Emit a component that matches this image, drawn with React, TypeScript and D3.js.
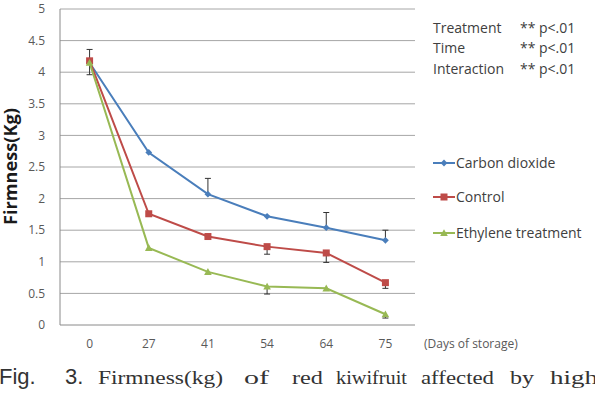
import * as d3 from "d3";

const days = ["0", "27", "41", "54", "64", "75"];
const yTicks = [0, 0.5, 1, 1.5, 2, 2.5, 3, 3.5, 4, 4.5, 5];

const carbonDioxide = [4.15, 2.73, 2.07, 1.72, 1.54, 1.34];
const control = [4.18, 1.76, 1.4, 1.24, 1.14, 0.67];
const ethylene = [4.15, 1.22, 0.84, 0.61, 0.58, 0.17];

// error bar sizes (upper, lower)
const carbonErrUp = [0.21, 0, 0.25, 0, 0.24, 0.16];
const carbonErrDown = [0.19, 0, 0, 0, 0, 0];
const controlErrDown = [0, 0, 0, 0.12, 0.15, 0.09];
const ethyleneErrDown = [0, 0, 0, 0.12, 0, 0.06];

const seriesNames = ["Carbon dioxide", "Control", "Ethylene treatment"];
const statsLines = [
  ["Treatment", "**", "p<.01"],
  ["Time", "**", "p<.01"],
  ["Interaction", "**", "p<.01"],
];
const captionWords = ["Firmness(kg)", "of", "red", "kiwifruit", "affected", "by", "high"];

const W = 595;
const H = 416;
const blue = "#4a7ebb";
const red = "#be4b48";
const green = "#98b954";
const font = "'Open Sans', sans-serif";

function Marker({ kind, x, y, color }: { kind: string; x: number; y: number; color: string }) {
  if (kind === "diamond") {
    const s = 3.4;
    return <path d={`M${x},${y - s}L${x + s},${y}L${x},${y + s}L${x - s},${y}Z`} fill={color} />;
  }
  if (kind === "square") {
    return <rect x={x - 3.5} y={y - 3.5} width={7} height={7} fill={color} />;
  }
  const s = 3.8;
  return <path d={`M${x},${y - s}L${x + s},${y + s * 0.8}L${x - s},${y + s * 0.8}Z`} fill={color} />;
}

export default function App() {
  const x = d3.scalePoint<string>().domain(days).range([60, 415]).padding(0.5);
  const y = d3.scaleLinear().domain([0, 5]).range([325, 9]);

  const series = [
    { name: seriesNames[0], values: carbonDioxide, color: blue, kind: "diamond", up: carbonErrUp, down: carbonErrDown },
    { name: seriesNames[1], values: control, color: red, kind: "square", up: days.map(() => 0), down: controlErrDown },
    { name: seriesNames[2], values: ethylene, color: green, kind: "triangle", up: days.map(() => 0), down: ethyleneErrDown },
  ];

  const line = d3
    .line<number>()
    .x((_, i) => x(days[i]) as number)
    .y((d) => y(d));

  const legendY = [163, 197, 233];
  const statsY = [28, 48, 69];
  // caption word positions and widths
  const captionX = [98, 244, 292, 336, 421, 510, 550];
  const captionW = [125, 25, 31, 71, 73, 24, 48];

  return (
    <svg width={W} height={H} style={{ position: "absolute", left: 0, top: 0, background: "#fff" }}>
      {/* grid */}
      {yTicks.map((t) => (
        <line key={t} x1={60} x2={415} y1={y(t)} y2={y(t)} stroke={t === 0 ? "#8a8a8a" : "#a6a6a6"} strokeWidth={1} />
      ))}
      <line x1={60} x2={60} y1={y(5)} y2={y(0)} stroke="#8a8a8a" strokeWidth={1} />
      {yTicks.map((t) => (
        <text key={t} x={45} y={y(t)} dy="0.35em" textAnchor="end" fontSize={12} fill="#595959" fontFamily={font}>
          {t}
        </text>
      ))}
      {days.map((d) => (
        <text key={d} x={x(d)} y={344} dy="0.35em" textAnchor="middle" fontSize={12} fill="#595959" fontFamily={font}>
          {d}
        </text>
      ))}
      <text x={424} y={344} dy="0.35em" fontSize={12} fill="#595959" fontFamily={font}>
        (Days of storage)
      </text>
      <text
        transform={`translate(17,${y(2.5) - 0.5}) rotate(-90)`}
        textAnchor="middle"
        fontSize={17}
        fontWeight="bold"
        fill="#1a1a1a"
        fontFamily={font}
        textLength={117}
        lengthAdjust="spacingAndGlyphs"
      >
        Firmness(Kg)
      </text>

      {/* series */}
      {series.map((s) => (
        <g key={s.name}>
          <path d={line(s.values) ?? ""} fill="none" stroke={s.color} strokeWidth={2} />
          {s.values.map((v, i) => {
            const cx = x(days[i]) as number;
            return (
              <g key={i}>
                {s.up[i] > 0 && (
                  <g stroke="#333" strokeWidth={1}>
                    <line x1={cx} x2={cx} y1={y(v)} y2={y(v + s.up[i])} />
                    <line x1={cx - 3} x2={cx + 3} y1={y(v + s.up[i])} y2={y(v + s.up[i])} />
                  </g>
                )}
                {s.down[i] > 0 && (
                  <g stroke="#333" strokeWidth={1}>
                    <line x1={cx} x2={cx} y1={y(v)} y2={y(v - s.down[i])} />
                    <line x1={cx - 3} x2={cx + 3} y1={y(v - s.down[i])} y2={y(v - s.down[i])} />
                  </g>
                )}
                <Marker kind={s.kind} x={cx} y={y(v)} color={s.color} />
              </g>
            );
          })}
        </g>
      ))}

      {/* stats */}
      {statsLines.map((r, i) => (
        <g key={r[0]} fontSize={14} fill="#404040" fontFamily={font}>
          <text x={433} y={statsY[i]} dy="0.35em">{r[0]}</text>
          <text x={520} y={statsY[i]} dy="0.35em">{r[1]}</text>
          <text x={539} y={statsY[i]} dy="0.35em">{r[2]}</text>
        </g>
      ))}

      {/* legend */}
      {series.map((s, i) => (
        <g key={s.name}>
          <line x1={433} x2={455} y1={legendY[i]} y2={legendY[i]} stroke={s.color} strokeWidth={2} />
          <Marker kind={s.kind} x={444} y={legendY[i]} color={s.color} />
          <text x={456} y={legendY[i]} dy="0.35em" fontSize={14} fill="#404040" fontFamily={font}>
            {s.name}
          </text>
        </g>
      ))}

      {/* caption */}
      <g fontSize={22} fill="#333" fontFamily="'Liberation Sans', Arial, sans-serif">
        <text x={-1} y={384}>Fig.</text>
        <text x={65} y={384}>3.</text>
      </g>
      {captionWords.map((w, i) => (
        <text
          key={w}
          x={captionX[i]}
          y={384}
          fontSize={18}
          fill="#333"
          fontFamily="'Liberation Serif', 'Times New Roman', serif"
          textLength={captionW[i]}
          lengthAdjust="spacingAndGlyphs"
        >
          {w}
        </text>
      ))}
    </svg>
  );
}
